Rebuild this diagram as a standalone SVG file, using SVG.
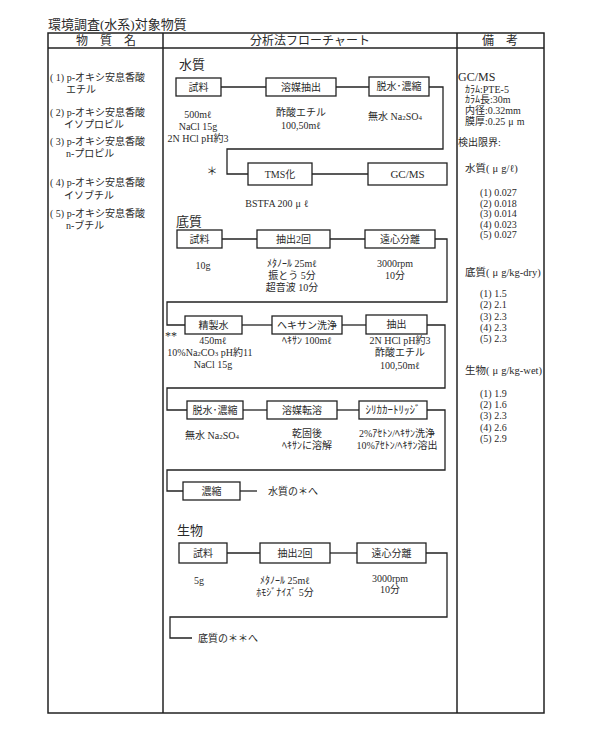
<svg xmlns="http://www.w3.org/2000/svg" width="595" height="749" viewBox="0 0 595 749">
<style>
text{font-family:"Liberation Serif","Noto Sans CJK JP",serif;fill:#2a2a2a;dominant-baseline:central}
.t{font-size:10px}
.c{font-size:10px;text-anchor:middle}
.s{font-size:11px;text-anchor:middle}
.b{font-size:10px;text-anchor:middle}
.h{font-size:12px;text-anchor:middle}
.sec{font-size:13px}
.r{font-size:10px}
.rl{font-size:10.5px}
.rs{font-size:10px}
.box{fill:#fff;stroke:#222;stroke-width:1.3}
.ln{fill:none;stroke:#222;stroke-width:1.3}
.tb{fill:none;stroke:#222;stroke-width:1.5}
</style>
<rect width="595" height="749" fill="#fff"/>
<text x="48" y="24" style="font-size:13px">環境調査(水系)対象物質</text>
<g id="table">
<rect class="tb" x="48" y="33" width="496" height="680"/>
<line class="tb" x1="48" y1="48" x2="544" y2="48"/>
<line class="tb" x1="163" y1="33" x2="163" y2="713"/>
<line class="tb" x1="457" y1="33" x2="457" y2="713"/>
<text class="h" x="106" y="41">物　質　名</text>
<text class="h" x="310" y="41">分析法フローチャート</text>
<text class="h" x="500" y="41">備　考</text>
</g>
<g id="substances">
<text class="t" x="50" y="77">( 1) p-オキシ安息香酸</text>
<text class="t" x="66" y="89">エチル</text>
<text class="t" x="50" y="112">( 2) p-オキシ安息香酸</text>
<text class="t" x="64" y="124">イソプロピル</text>
<text class="t" x="50" y="141">( 3) p-オキシ安息香酸</text>
<text class="t" x="66" y="153">n-プロピル</text>
<text class="t" x="50" y="182">( 4) p-オキシ安息香酸</text>
<text class="t" x="64" y="195">イソブチル</text>
<text class="t" x="50" y="213">( 5) p-オキシ安息香酸</text>
<text class="t" x="66" y="225">n-ブチル</text>
</g>
<g id="connectors">
<line class="ln" x1="221" y1="87" x2="266" y2="87"/>
<line class="ln" x1="336" y1="87" x2="369" y2="87"/>
<path class="ln" d="M429,87 H443 V149 H227 V174 H248"/>
<line class="ln" x1="312" y1="174" x2="368" y2="174"/>
<line class="ln" x1="222" y1="239" x2="257" y2="239"/>
<line class="ln" x1="330" y1="239" x2="365" y2="239"/>
<path class="ln" d="M435,239 H447 V302 H167 V325 H185"/>
<line class="ln" x1="242" y1="325" x2="272" y2="325"/>
<line class="ln" x1="342" y1="325" x2="366" y2="325"/>
<path class="ln" d="M427,325 H445 V388 H167 V410 H187"/>
<line class="ln" x1="243" y1="410" x2="267" y2="410"/>
<line class="ln" x1="337" y1="410" x2="359" y2="410"/>
<path class="ln" d="M427,410 H445 V470 H167 V491 H183"/>
<line class="ln" x1="240" y1="491" x2="257" y2="491"/>
<line class="ln" x1="227" y1="553" x2="260" y2="553"/>
<line class="ln" x1="330" y1="553" x2="357" y2="553"/>
<path class="ln" d="M426,553 H447 V617 H170 V638 H192"/>
</g>
<g id="water">
<text class="sec" x="179" y="64">水質</text>
<g id="w-sample"><rect class="box" x="176" y="78" width="45" height="18"/><text class="b" x="198.5" y="87">試料</text></g>
<g id="w-extract"><rect class="box" x="266" y="78" width="70" height="18"/><text class="b" x="301" y="87">溶媒抽出</text></g>
<g id="w-dry"><rect class="box" x="369" y="77" width="60" height="19"/><text class="b" x="399" y="86.5">脱水･濃縮</text></g>
<g id="w-tms"><rect class="box" x="248" y="163" width="64" height="22"/><text class="b" x="280" y="174">TMS化</text></g>
<g id="w-gcms"><rect class="box" x="368" y="163" width="79" height="22"/><text class="b" x="407.5" y="174" style="font-size:11px">GC/MS</text></g>
<text class="c" x="198" y="114">500mℓ</text>
<text class="c" x="198" y="126">NaCl 15g</text>
<text class="c" x="198" y="138">2N HCl pH約3</text>
<text class="c" x="301" y="112">酢酸エチル</text>
<text class="c" x="301" y="125">100,50mℓ</text>
<text class="c" x="395" y="116">無水 Na<tspan font-size="7" dy="2">2</tspan><tspan dy="-2">SO</tspan><tspan font-size="7" dy="2">4</tspan></text>
<text class="c" x="212" y="171" style="font-size:11px">＊</text>
<text class="c" x="277" y="203">BSTFA 200<tspan dx="3">μ</tspan><tspan dx="3">ℓ</tspan></text>
</g>
<g id="sediment">
<text class="sec" x="176" y="221">底質</text>
<g id="s-sample"><rect class="box" x="177" y="230" width="45" height="18"/><text class="b" x="199.5" y="239">試料</text></g>
<g id="s-extract"><rect class="box" x="257" y="230" width="73" height="18"/><text class="b" x="293.5" y="239">抽出2回</text></g>
<g id="s-centri"><rect class="box" x="365" y="230" width="70" height="18"/><text class="b" x="400" y="239">遠心分離</text></g>
<text class="c" x="203" y="265">10g</text>
<text class="c" x="292" y="263">ﾒﾀﾉｰﾙ 25mℓ</text>
<text class="c" x="292" y="275">振とう 5分</text>
<text class="c" x="292" y="287">超音波 10分</text>
<text class="c" x="395" y="263">3000rpm</text>
<text class="c" x="395" y="275">10分</text>
<text x="165" y="336" style="font-size:12px">**</text>
<g id="s-water"><rect class="box" x="185" y="316" width="57" height="18"/><text class="b" x="213.5" y="325">精製水</text></g>
<g id="s-hexwash"><rect class="box" x="272" y="316" width="70" height="18"/><text class="b" x="307" y="325">ヘキサン洗浄</text></g>
<g id="s-extract2"><rect class="box" x="366" y="315" width="61" height="19"/><text class="b" x="396.5" y="324.5">抽出</text></g>
<text class="c" x="213" y="340">450mℓ</text>
<text class="c" x="210" y="352">10%Na<tspan font-size="7" dy="2">2</tspan><tspan dy="-2">CO</tspan><tspan font-size="7" dy="2">3</tspan><tspan dy="-2"> pH約11</tspan></text>
<text class="c" x="213" y="364">NaCl 15g</text>
<text class="c" x="307" y="340">ﾍｷｻﾝ 100mℓ</text>
<text class="c" x="400" y="340">2N HCl pH約3</text>
<text class="c" x="400" y="352">酢酸エチル</text>
<text class="c" x="400" y="365">100,50mℓ</text>
<g id="s-dry"><rect class="box" x="187" y="401" width="56" height="18"/><text class="b" x="215" y="410">脱水･濃縮</text></g>
<g id="s-transfer"><rect class="box" x="267" y="401" width="70" height="18"/><text class="b" x="302" y="410">溶媒転溶</text></g>
<g id="s-silica"><rect class="box" x="359" y="401" width="68" height="18"/><text class="s" x="393" y="410">ｼﾘｶｶｰﾄﾘｯｼﾞ</text></g>
<text class="c" x="212" y="435">無水 Na<tspan font-size="7" dy="2">2</tspan><tspan dy="-2">SO</tspan><tspan font-size="7" dy="2">4</tspan></text>
<text class="c" x="307" y="433">乾固後</text>
<text class="c" x="307" y="445">ﾍｷｻﾝに溶解</text>
<text class="c" x="397" y="433">2%ｱｾﾄﾝ/ﾍｷｻﾝ洗浄</text>
<text class="c" x="397" y="445">10%ｱｾﾄﾝ/ﾍｷｻﾝ溶出</text>
<g id="s-conc"><rect class="box" x="183" y="482" width="57" height="18"/><text class="b" x="211.5" y="491">濃縮</text></g>
<text class="t" x="268" y="491">水質の＊へ</text>
</g>
<g id="biota">
<text class="sec" x="177" y="530">生物</text>
<g id="b-sample"><rect class="box" x="179" y="543" width="48" height="20"/><text class="b" x="203" y="553">試料</text></g>
<g id="b-extract"><rect class="box" x="260" y="543" width="70" height="20"/><text class="b" x="295" y="553">抽出2回</text></g>
<g id="b-centri"><rect class="box" x="357" y="543" width="69" height="20"/><text class="b" x="391.5" y="553">遠心分離</text></g>
<text class="c" x="199" y="580">5g</text>
<text class="c" x="285" y="580">ﾒﾀﾉｰﾙ 25mℓ</text>
<text class="c" x="285" y="592">ﾎﾓｼﾞﾅｲｽﾞ 5分</text>
<text class="c" x="390" y="578">3000rpm</text>
<text class="c" x="390" y="589">10分</text>
<text class="t" x="198" y="638">底質の＊＊へ</text>
</g>
<g id="remarks">
<text x="458" y="77" style="font-size:12px">GC/MS</text>
<text class="rs" x="465" y="89">ｶﾗﾑ:PTE-5</text>
<text class="rs" x="465" y="99">ｶﾗﾑ長:30m</text>
<text class="rs" x="465" y="110">内径:0.32mm</text>
<text class="rs" x="465" y="121">膜厚:0.25<tspan dx="3">μ</tspan><tspan dx="3">m</tspan></text>
<text class="r" x="458" y="142">検出限界:</text>
<text class="rl" x="465" y="168">水質(<tspan dx="3">μ</tspan><tspan dx="3">g/ℓ)</tspan></text>
<text class="r" x="480" y="192">(1) 0.027</text>
<text class="r" x="480" y="203">(2) 0.018</text>
<text class="r" x="480" y="213">(3) 0.014</text>
<text class="r" x="480" y="224">(4) 0.023</text>
<text class="r" x="480" y="234">(5) 0.027</text>
<text class="rl" x="465" y="272">底質(<tspan dx="3">μ</tspan><tspan dx="3">g/kg-dry)</tspan></text>
<text class="r" x="480" y="293">(1)  1.5</text>
<text class="r" x="480" y="304">(2)  2.1</text>
<text class="r" x="480" y="316">(3)  2.3</text>
<text class="r" x="480" y="327">(4)  2.3</text>
<text class="r" x="480" y="338">(5)  2.3</text>
<text class="rl" x="465" y="370">生物(<tspan dx="3">μ</tspan><tspan dx="3">g/kg-wet)</tspan></text>
<text class="r" x="480" y="393">(1)  1.9</text>
<text class="r" x="480" y="404">(2)  1.6</text>
<text class="r" x="480" y="415">(3)  2.3</text>
<text class="r" x="480" y="427">(4)  2.6</text>
<text class="r" x="480" y="438">(5)  2.9</text>
</g>
</svg>
